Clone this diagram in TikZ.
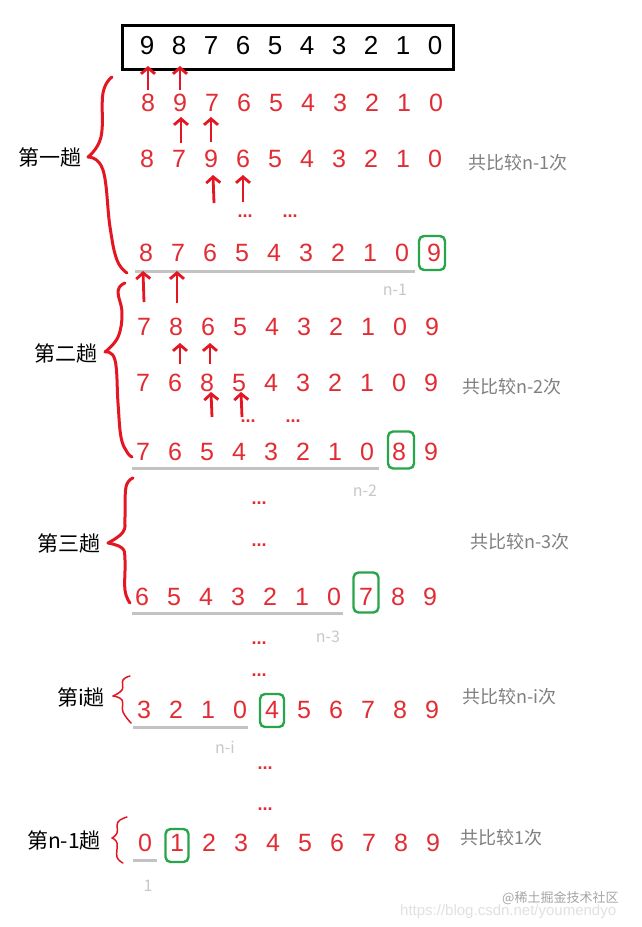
\documentclass[tikz,border=0pt]{standalone}
\usepackage{fontspec}
\setmainfont{Liberation Sans}
\newfontfamily\cjk{Noto Sans CJK SC}
\usetikzlibrary{arrows.meta}
\definecolor{dred}{RGB}{226,44,52}
\definecolor{hred}{RGB}{228,22,34}
\definecolor{gbox}{RGB}{40,165,75}
\definecolor{uline}{RGB}{195,195,195}
\definecolor{lbl}{RGB}{128,128,128}
\definecolor{nlbl}{RGB}{200,200,200}
\definecolor{wm}{RGB}{225,225,225}
\definecolor{wmb}{RGB}{165,165,165}
\newcommand{\digitrow}[5]{%
  \foreach \d [count=\k from 0] in {#4} {\node[#5] (#1-\k) at ({#2+32*\k},#3) {\d};}}
\begin{document}
\begin{tikzpicture}[x=1pt,y=-1pt,
  digit/.style={inner sep=0pt,font=\fontsize{25}{25}\selectfont,text=dred},
  topdigit/.style={inner sep=0pt,font=\fontsize{26}{26}\selectfont,text=black},
  greenbox/.style={draw=gbox,line width=2.4pt,rounded corners=5pt,minimum width=26pt,minimum height=35pt,inner sep=0pt},
  underl/.style={draw=uline,line width=3pt},
  harrow/.style={draw=hred,line width=2.8pt,-{Straight Barb[length=6pt,width=14pt]}},
  brace/.style={draw=hred,line width=3pt,line cap=round,line join=round},
  thinbrace/.style={draw=hred,line width=1.5pt,line cap=round,line join=round},
  pass/.style={inner sep=0pt,font=\cjk\fontsize{21}{21}\selectfont,text=black},
  count/.style={inner sep=0pt,anchor=west,font=\cjk\fontsize{18}{18}\selectfont,text=lbl},
  nlab/.style={inner sep=0pt,font=\cjk\fontsize{16}{16}\selectfont,text=nlbl},
  dots/.style={inner sep=0pt,font=\bfseries\fontsize{18}{18}\selectfont,text=dred}]
\useasboundingbox (0,0) rectangle (642,927);
\fill[white] (0,0) rectangle (642,927);

% top array
\node[draw=black,line width=3pt,minimum width=331pt,minimum height=44pt,inner sep=0pt] (topbox) at (288,47.5) {};
\digitrow{t}{147}{45.5}{9,8,7,6,5,4,3,2,1,0}{topdigit}

% pass 1
\digitrow{a}{148}{103}{8,9,7,6,5,4,3,2,1,0}{digit}
\digitrow{b}{147}{159}{8,7,9,6,5,4,3,2,1,0}{digit}
\digitrow{c}{146}{253}{8,7,6,5,4,3,2,1,0,9}{digit}
\node[greenbox,minimum height=34pt] (g1) at (432,253) {};
\node[dots] (d1) at (245,216) {...};
\node[dots] (d2) at (290,216) {...};
\coordinate (u1a) at (135,271); \coordinate (u1b) at (415,271);
\draw[underl] (u1a) -- (u1b);
\node[nlab] (n1) at (395,290) {n-1};

% pass 2
\digitrow{e}{144}{327}{7,8,6,5,4,3,2,1,0,9}{digit}
\digitrow{f}{143}{383}{7,6,8,5,4,3,2,1,0,9}{digit}
\digitrow{h}{143}{452}{7,6,5,4,3,2,1,0,8,9}{digit}
\node[greenbox,minimum height=37pt] (g2) at (401,450) {};
\node[dots] (d3) at (248,421) {...};
\node[dots] (d4) at (293,421) {...};
\coordinate (u2a) at (132,468); \coordinate (u2b) at (379,468);
\draw[underl] (u2a) -- (u2b);
\node[nlab] (n2) at (365,491) {n-2};

% pass 3
\node[dots] (d5) at (259,503) {...};
\node[dots] (d6) at (259,545) {...};
\digitrow{k}{142}{597}{6,5,4,3,2,1,0,7,8,9}{digit}
\node[greenbox,minimum height=40pt,minimum width=25pt] (g3) at (366,592.5) {};
\coordinate (u3a) at (132,613); \coordinate (u3b) at (343,613);
\draw[underl] (u3a) -- (u3b);
\node[nlab] (n3) at (328,637) {n-3};

% pass i
\node[dots] (d7) at (259,643) {...};
\node[dots] (d8) at (259,675) {...};
\digitrow{m}{144}{710}{3,2,1,0,4,5,6,7,8,9}{digit}
\node[greenbox,minimum height=33pt,minimum width=24pt] (g4) at (272,710.5) {};
\coordinate (u4a) at (133,727); \coordinate (u4b) at (248,727);
\draw[underl] (u4a) -- (u4b);
\node[nlab] (n4) at (225,747) {n-i};

% pass n-1
\node[dots] (d9) at (265,768) {...};
\node[dots] (d10) at (265,809) {...};
\digitrow{p}{145}{843}{0,1,2,3,4,5,6,7,8,9}{digit}
\node[greenbox,minimum height=33pt,minimum width=23pt] (g5) at (177,845.5) {};
\coordinate (u5a) at (133,860); \coordinate (u5b) at (157,860);
\draw[underl] (u5a) -- (u5b);
\node[nlab] (n5) at (148,886) {1};

% arrows
\coordinate (s1) at (148,90); \coordinate (e1) at (148,66);
\coordinate (s2) at (180,90); \coordinate (e2) at (180,66);
\coordinate (s3) at (181,143); \coordinate (e3) at (181,117);
\coordinate (s4) at (211,142); \coordinate (e4) at (211,117);
\coordinate (s5) at (214,203); \coordinate (e5) at (213,175);
\coordinate (s6) at (243,202); \coordinate (e6) at (243,175);
\coordinate (s7) at (144,302); \coordinate (e7) at (143,271);
\coordinate (s8) at (177,303); \coordinate (e8) at (177,271);
\coordinate (s9) at (180,364); \coordinate (e9) at (180,343);
\coordinate (s10) at (210,364); \coordinate (e10) at (210,343);
\coordinate (s11) at (212,417); \coordinate (e11) at (211,392);
\coordinate (s12) at (242,417); \coordinate (e12) at (241,392);
\foreach \i in {1,...,12} {\draw[harrow] (s\i) -- (e\i);}

% braces
\draw[brace] plot[smooth,tension=0.7] coordinates {(112,77) (103,93) (101,137) (88,157)};
\draw[brace] plot[smooth,tension=0.7] coordinates {(88,157) (103,170) (110,227) (117,260) (127,273)};
\draw[brace] plot[smooth,tension=0.7] coordinates {(125,283) (118,291) (122,313) (118,337) (105,352)};
\draw[brace] plot[smooth,tension=0.7] coordinates {(105,352) (115,360) (118,403) (121,437) (127,452) (132,457)};
\draw[brace] plot[smooth,tension=0.7] coordinates {(133,478) (126,487) (125,517) (123,532) (108,543)};
\draw[brace] plot[smooth,tension=0.7] coordinates {(108,543) (122,548) (125,560) (125,590) (130,603)};
\draw[thinbrace] plot[smooth,tension=0.7] coordinates {(130,676) (123,680) (122,690) (113,696)};
\draw[thinbrace] plot[smooth,tension=0.7] coordinates {(113,696) (122,700) (123,712) (131,723)};
\draw[thinbrace] plot[smooth,tension=0.7] coordinates {(127,817) (118,822) (117,833) (112,838)};
\draw[thinbrace] plot[smooth,tension=0.7] coordinates {(112,838) (117,843) (117,857) (123,863)};

% pass labels
\node[pass] (p1) at (50,157) {第一趟};
\node[pass] (p2) at (66,353) {第二趟};
\node[pass] (p3) at (69,543) {第三趟};
\node[pass] (p4) at (81,697) {第i趟};
\node[pass] (p5) at (64,840) {第n-1趟};

% counts
\node[count] (c1) at (468,163) {共比较n-1次};
\node[count] (c2) at (462,387) {共比较n-2次};
\node[count] (c3) at (470,542) {共比较n-3次};
\node[count] (c4) at (462,697) {共比较n-i次};
\node[count] (c5) at (460,838) {共比较1次};

% watermark
\node[inner sep=0pt,anchor=west,font=\fontsize{15}{15}\selectfont,text=wm] (w2) at (400,912) {https://blog.csdn.net/youmendyo};
\node[inner sep=0pt,anchor=west,font=\cjk\fontsize{13}{13}\selectfont,text=wmb] (w1) at (502,898) {@稀土掘金技术社区};
\end{tikzpicture}
\end{document}
